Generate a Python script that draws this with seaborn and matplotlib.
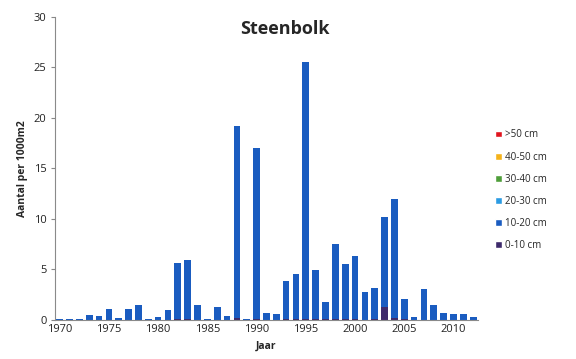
import numpy as np
import matplotlib
matplotlib.use('Agg')
import matplotlib.pyplot as plt
from matplotlib.patches import Patch
import seaborn as sns

years = list(range(1970, 2013))

# Aantal per 1000m2 per lengteklasse
cm_0_10 = [0, 0, 0, 0, 0, 0, 0, 0, 0, 0,
           0, 0, 0.05, 0.05, 0, 0, 0, 0, 0.15, 0,
           0.1, 0, 0, 0.05, 0.05, 0.1, 0.1, 0.1, 0.1, 0.1,
           0.1, 0, 0.05, 1.3, 0.2, 0.05, 0, 0, 0, 0,
           0, 0, 0]
cm_10_20 = [0.1, 0.1, 0.1, 0.5, 0.4, 1.1, 0.15, 1.1, 1.45, 0.1,
            0.27, 1.0, 5.6, 5.85, 1.45, 0.1, 1.3, 0.4, 19.05, 0.1,
            16.9, 0.7, 0.55, 3.75, 4.45, 25.4, 4.85, 1.65, 7.4, 5.4,
            6.2, 2.8, 3.15, 8.9, 11.8, 2.0, 0.25, 3.1, 1.45, 0.7,
            0.6, 0.55, 0.3]
cm_20_30 = [0] * len(years)
cm_30_40 = [0] * len(years)
cm_40_50 = [0] * len(years)
cm_50 = [0] * len(years)

classes = ['0-10 cm', '10-20 cm', '20-30 cm', '30-40 cm', '40-50 cm', '>50 cm']
series = [cm_0_10, cm_10_20, cm_20_30, cm_30_40, cm_40_50, cm_50]
colors = ['#3d2a6b', '#1a5cc0', '#2b9be3', '#4f9e3a', '#f5b21a', '#e0141e']

sns.set_style('white')
plt.rcParams['font.family'] = ['Open Sans', 'DejaVu Sans']

fig = plt.figure(figsize=(5.76, 3.59), dpi=100)
ax = fig.add_axes([0.095, 0.109, 0.735, 0.844])

cum = np.cumsum(np.array(series, dtype=float), axis=0)
for i in range(len(classes) - 1, -1, -1):
    sns.barplot(x=years, y=cum[i], color=colors[i], width=0.68,
                saturation=1, ax=ax, edgecolor='none')

ax.set_ylim(0, 30)
ax.set_xlim(-0.5, len(years) - 0.5)
ax.set_yticks(range(0, 31, 5))
ax.set_xticks(range(0, len(years), 5))
ax.set_xticklabels([str(y) for y in years[::5]])
ax.tick_params(axis='both', labelsize=8, colors='#222222', length=0, pad=3)
ax.tick_params(axis='y', length=3, color='#888888', direction='out', left=True)

for s in ['top', 'right']:
    ax.spines[s].set_visible(False)
for s in ['left', 'bottom']:
    ax.spines[s].set_color('#8a8a8a')
    ax.spines[s].set_linewidth(0.8)

ax.set_xlabel('Jaar', fontsize=7.5, fontweight='bold', labelpad=4)
ax.set_ylabel('Aantal per 1000m2', fontsize=7.5, fontweight='bold', labelpad=4)
fig.text(0.495, 0.92, 'Steenbolk', fontsize=13, fontweight='bold',
         ha='center', va='center')

handles = [Patch(facecolor=colors[i], label=classes[i]) for i in range(len(classes) - 1, -1, -1)]
fig.legend(handles=handles, loc='upper left', bbox_to_anchor=(0.845, 0.664),
           frameon=False, fontsize=7, handlelength=0.7, handleheight=0.7,
           handletextpad=0.3, labelspacing=1.15)

fig.savefig('out.png', dpi=100)
